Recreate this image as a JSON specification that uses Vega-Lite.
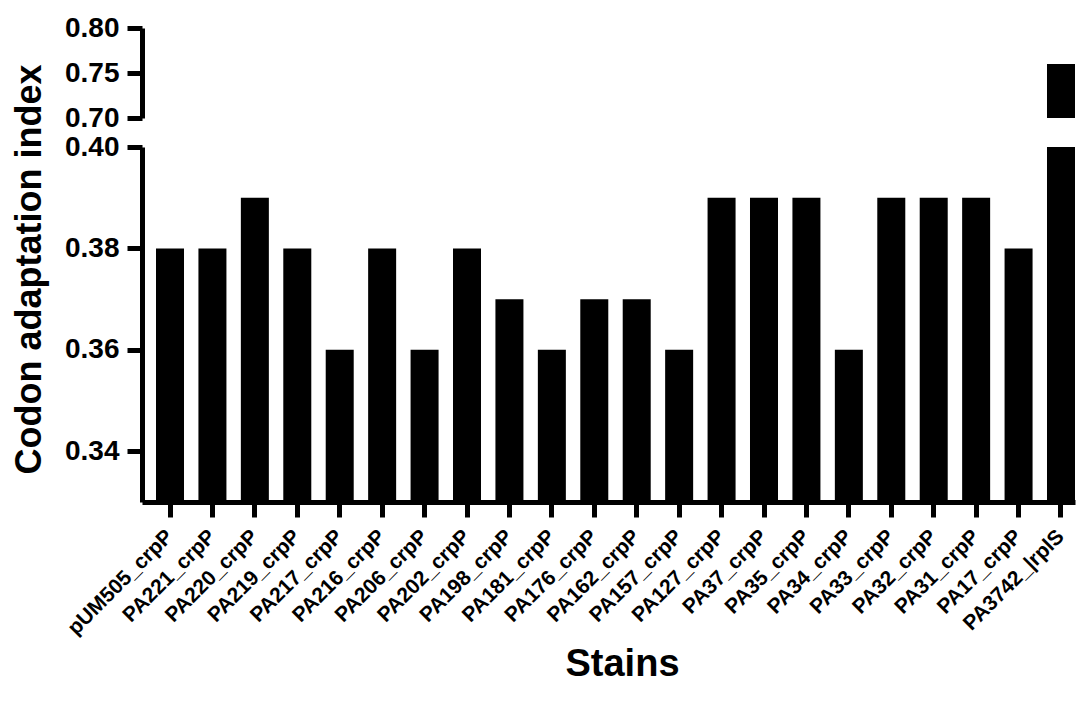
{
  "$schema": "https://vega.github.io/schema/vega-lite/v6.json",
  "padding": {"left": 11, "top": 14, "right": 3, "bottom": 5},
  "spacing": 29,
  "bounds": "flush",
  "config": {
    "font": "Liberation Sans",
    "view": {"stroke": null},
    "axis": {
      "domainColor": "black", "tickColor": "black", "labelColor": "black", "titleColor": "black",
      "domainWidth": 5, "tickWidth": 5, "tickSize": 15,
      "labelFont": "Liberation Sans", "labelFontWeight": "bold",
      "titleFont": "Liberation Sans", "titleFontWeight": "bold",
      "grid": false
    }
  },
  "data": {"values": [
    {"strain": "pUM505_crpP", "cai": 0.38},
    {"strain": "PA221_crpP", "cai": 0.38},
    {"strain": "PA220_crpP", "cai": 0.39},
    {"strain": "PA219_crpP", "cai": 0.38},
    {"strain": "PA217_crpP", "cai": 0.36},
    {"strain": "PA216_crpP", "cai": 0.38},
    {"strain": "PA206_crpP", "cai": 0.36},
    {"strain": "PA202_crpP", "cai": 0.38},
    {"strain": "PA198_crpP", "cai": 0.37},
    {"strain": "PA181_crpP", "cai": 0.36},
    {"strain": "PA176_crpP", "cai": 0.37},
    {"strain": "PA162_crpP", "cai": 0.37},
    {"strain": "PA157_crpP", "cai": 0.36},
    {"strain": "PA127_crpP", "cai": 0.39},
    {"strain": "PA37_crpP", "cai": 0.39},
    {"strain": "PA35_crpP", "cai": 0.39},
    {"strain": "PA34_crpP", "cai": 0.36},
    {"strain": "PA33_crpP", "cai": 0.39},
    {"strain": "PA32_crpP", "cai": 0.39},
    {"strain": "PA31_crpP", "cai": 0.39},
    {"strain": "PA17_crpP", "cai": 0.38},
    {"strain": "PA3742_|rplS", "cai": 0.76}
  ]},
  "vconcat": [
    {
      "width": 933, "height": 90,
      "mark": {"type": "bar", "color": "black", "clip": true},
      "encoding": {
        "x": {"field": "strain", "type": "nominal", "sort": null, "axis": null,
              "scale": {"paddingInner": 0.34, "paddingOuter": 0.165, "align": 1}},
        "y": {"field": "cai", "type": "quantitative",
              "scale": {"domain": [0.70, 0.80], "zero": false, "nice": false},
              "axis": {"values": [0.70, 0.75, 0.80], "format": ".2f", "title": null,
                       "labelFontSize": 28, "labelPadding": 8}}
      }
    },
    {
      "width": 933, "height": 355,
      "mark": {"type": "bar", "color": "black", "clip": true},
      "encoding": {
        "x": {"field": "strain", "type": "nominal", "sort": null,
              "scale": {"paddingInner": 0.34, "paddingOuter": 0.165, "align": 1},
              "axis": {"title": "Stains", "titleFontSize": 38, "titlePadding": 7, "titleX": 480,
                       "labelAngle": -45, "labelAlign": "right", "labelBaseline": "middle",
                       "labelFontSize": 21, "labelPadding": 16}},
        "y": {"field": "cai", "type": "quantitative",
              "scale": {"domain": [0.33, 0.40], "zero": false, "nice": false},
              "axis": {"values": [0.34, 0.36, 0.38, 0.40], "format": ".2f",
                       "title": "Codon adaptation index", "titleFontSize": 36, "titleY": 122, "titlePadding": 16,
                       "labelFontSize": 28, "labelPadding": 8}}
      }
    }
  ]
}
